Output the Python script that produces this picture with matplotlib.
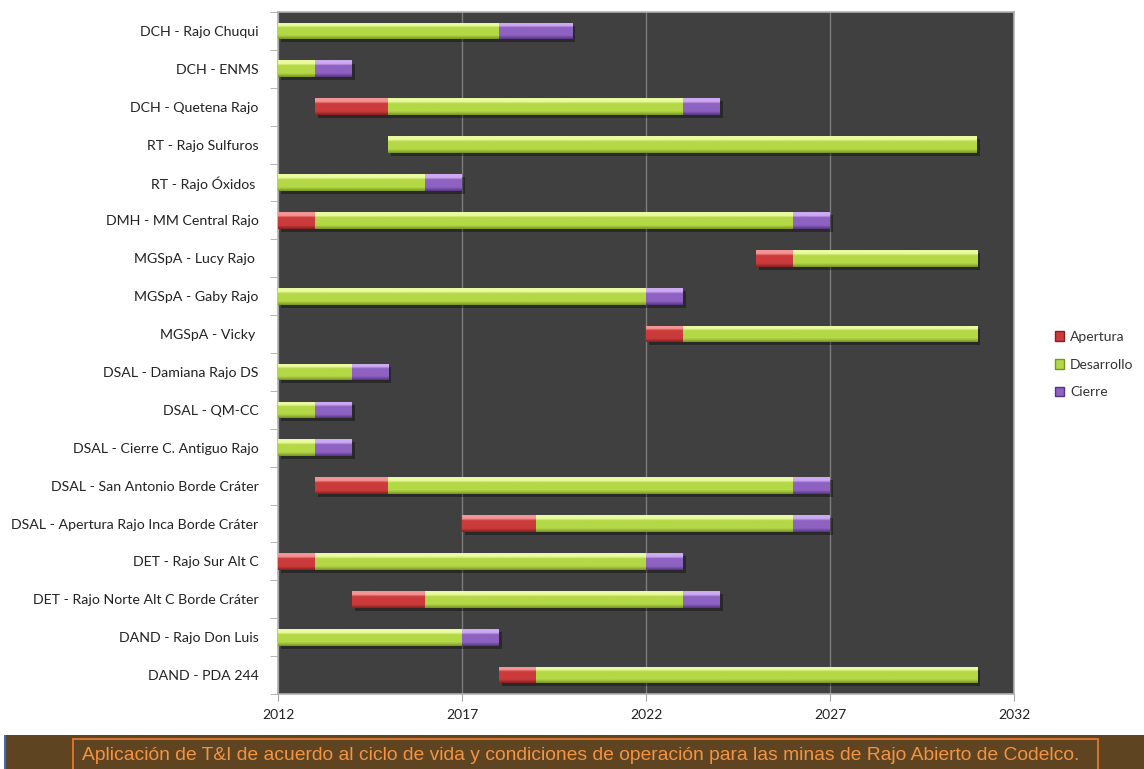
import numpy as np
import matplotlib.pyplot as plt
from matplotlib.colors import LinearSegmentedColormap
from matplotlib.patches import Rectangle, Patch

# Minas y fases (años de inicio y duración de cada fase)
minas = [
    "DCH - Rajo Chuqui",
    "DCH - ENMS",
    "DCH - Quetena Rajo",
    "RT - Rajo Sulfuros",
    "RT - Rajo Óxidos ",
    "DMH - MM Central Rajo",
    "MGSpA - Lucy Rajo ",
    "MGSpA - Gaby Rajo",
    "MGSpA - Vicky ",
    "DSAL - Damiana Rajo DS",
    "DSAL - QM-CC",
    "DSAL - Cierre C. Antiguo Rajo",
    "DSAL - San Antonio Borde Cráter",
    "DSAL - Apertura Rajo Inca Borde Cráter",
    "DET - Rajo Sur Alt C",
    "DET - Rajo Norte Alt C Borde Cráter",
    "DAND - Rajo Don Luis",
    "DAND - PDA 244",
]
inicio = [2012, 2012, 2013, 2015, 2012, 2012, 2025, 2012, 2022,
          2012, 2012, 2012, 2013, 2017, 2012, 2014, 2012, 2018]
apertura = [0, 0, 2, 0, 0, 1, 1, 0, 1, 0, 0, 0, 2, 2, 1, 2, 0, 1]
desarrollo = [6, 1, 8, 16, 4, 13, 5, 10, 8, 2, 1, 1, 11, 7, 9, 7, 5, 12]
cierre = [2, 1, 1, 0, 1, 1, 0, 1, 0, 1, 1, 1, 1, 1, 1, 1, 1, 0]

fases = ["Apertura", "Desarrollo", "Cierre"]
años = [2012, 2017, 2022, 2027, 2032]
titulo = "Aplicación de T&I de acuerdo al ciclo de vida y condiciones de operación para las minas de Rajo Abierto de Codelco."

# colores: (claro arriba, base, oscuro abajo)
colores = {
    "Apertura": ("#f49494", "#cc3b3b", "#862020"),
    "Desarrollo": ("#eafaa0", "#b4d846", "#769522"),
    "Cierre": ("#cdaaf2", "#8e62c2", "#553480"),
}

fig = plt.figure(figsize=(11.44, 7.69), dpi=100)
ax = fig.add_axes([0.243, 0.0975, 0.6434, 0.8869])
ax.set_facecolor("#404040")

y = np.arange(len(minas))
h = 0.44
ini = np.array(inicio, dtype=float)
ap = np.array(apertura, dtype=float)
de = np.array(desarrollo, dtype=float)
ci = np.array(cierre, dtype=float)
lefts = [ini, ini + ap, ini + ap + de]
widths = [ap, de, ci]

grad = np.linspace(0, 1, 64).reshape(-1, 1)
for fase, left, width in zip(fases, lefts, widths):
    claro, base, oscuro = colores[fase]
    cmap = LinearSegmentedColormap.from_list(
        fase, [(0, claro), (0.2, claro), (0.32, base), (0.78, base), (1, oscuro)])
    # sombra
    ax.barh(y + 0.08, width, left=left + 0.08, height=h, color="black",
            alpha=0.35, linewidth=0, zorder=2)
    barras = ax.barh(y, width, left=left, height=h, color=base,
                     linewidth=0, zorder=3)
    for b in barras:
        if b.get_width() <= 0:
            continue
        x0, y0 = b.get_x(), b.get_y()
        im = ax.imshow(grad, extent=[x0, x0 + b.get_width(), y0 + b.get_height(), y0],
                       aspect="auto", cmap=cmap, zorder=4, interpolation="bilinear")
        im.set_clip_path(b)

ax.set_xlim(2012, 2032)
ax.set_ylim(len(minas) - 0.5, -0.5)
ax.set_xticks(años)
ax.set_xticklabels([str(a) for a in años], fontsize=10, family="Lato")
ax.set_yticks(y)
ax.set_yticklabels(minas, fontsize=10.2, family="Lato")
ax.set_yticks(np.arange(len(minas) + 1) - 0.5, minor=True)
ax.tick_params(axis="y", which="major", length=0, pad=14, colors="#222222")
ax.tick_params(axis="y", which="minor", length=6, color="#aaaaaa")
ax.tick_params(axis="x", length=5, color="#aaaaaa", colors="#222222", pad=6)
ax.grid(axis="x", color="#7c7c7c", linewidth=1, zorder=1)
ax.set_axisbelow(True)
for s in ax.spines.values():
    s.set_color("#b0b0b0")
    s.set_linewidth(1.2)

manejadores = [Patch(facecolor=colores[f][1], edgecolor=colores[f][2], label=f) for f in fases]
fig.legend(handles=manejadores, loc="center left", bbox_to_anchor=(0.911, 0.526),
           frameon=False, prop={"family": "Lato", "size": 10}, handlelength=0.7,
           handleheight=0.7, handletextpad=0.4, labelspacing=1.15,
           labelcolor="#333333")

# banda inferior
fig.patches.append(Rectangle((5 / 1144, 0), 1, 34 / 769, transform=fig.transFigure,
                             facecolor="#5e4420", edgecolor="none", zorder=0))
fig.patches.append(Rectangle((4 / 1144, 0), 1.5 / 1144, 34 / 769, transform=fig.transFigure,
                             facecolor="#3a6ec0", edgecolor="none", zorder=1))
fig.patches.append(Rectangle((73 / 1144, -0.02), 1025 / 1144, 30 / 769 + 0.02,
                             transform=fig.transFigure, facecolor="none",
                             edgecolor="#e07a30", linewidth=1.3, zorder=1))
fig.text(581 / 1144, 13 / 769, titulo, ha="center", va="center", color="#f39444",
         fontsize=13.9, family=["Liberation Sans", "DejaVu Sans"])

fig.savefig("out.png", dpi=100)
